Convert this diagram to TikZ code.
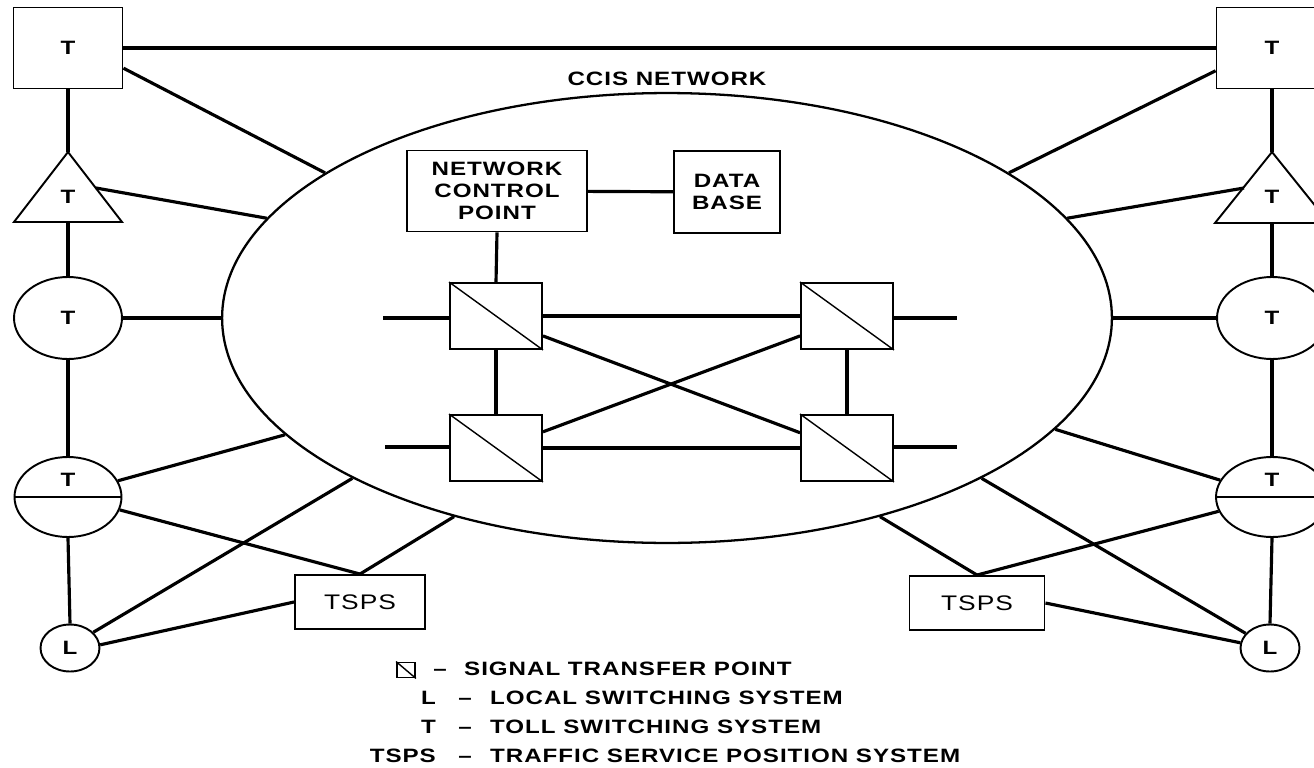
\documentclass[tikz,border=0pt]{standalone}
\usepackage{fontspec}
\setmainfont{Liberation Sans}[FakeStretch=1.25,LetterSpace=5]
\usetikzlibrary{shapes.geometric}

\begin{document}
\begin{tikzpicture}[x=0.02cm, y=-0.02cm,
    conn/.style={line width=1.8pt},
    box/.style={draw, line width=1.1pt, rectangle, inner sep=0pt},
    oval/.style={draw, line width=1.1pt, ellipse, inner sep=0pt},
    tsq/.style={box, minimum width=2.18cm, minimum height=1.62cm, font=\tfont},
    tov/.style={oval, minimum width=2.16cm, minimum height=1.64cm, font=\tfont},
    lov/.style={oval, minimum width=1.18cm, minimum height=0.94cm, font=\tfont},
    tsps/.style={box, minimum width=2.6cm, minimum height=1.08cm, font=\fontsize{12}{14}\selectfont},
    stp/.style={box, minimum width=1.84cm, minimum height=1.32cm},
    txt/.style={font=\fontsize{11}{12.6}\selectfont\bfseries, align=center},
    key/.style={txt, text height=1.2ex, text depth=0pt},
  ]
    \providecommand\tfont{\fontsize{11}{13}\selectfont\bfseries}
    \useasboundingbox (0,0) rectangle (1314,767);

    % CCIS network
    \node[oval, line width=1.3pt, minimum width=17.8cm, minimum height=9cm] (ccis) at (667,318) {};
    \node[txt] (ccisLbl) at (667,79) {CCIS NETWORK};
    \node[box, txt, minimum width=3.6cm, minimum height=1.62cm] (ncp) at (497,191) {NETWORK\\CONTROL\\POINT};
    \node[box, txt, minimum width=2.12cm, minimum height=1.64cm] (dbase) at (727,192) {DATA\\BASE};
    \node[stp] (stpTL) at (496,316) {};
    \node[stp] (stpTR) at (847,316) {};
    \node[stp] (stpBL) at (496,448) {};
    \node[stp] (stpBR) at (847,448) {};
    \foreach \s in {stpTL,stpTR,stpBL,stpBR}
        \draw[line width=0.8pt] (\s.north west) -- (\s.south east);
    \coordinate (stubTL) at (383,318);
    \coordinate (stubBL) at (385,447);
    \coordinate (stubTR) at (957,318);
    \coordinate (stubBR) at (957,447);
    \draw[conn] (ncp) -- (dbase);
    \draw[conn] (ncp.south) -- (stpTL.north);
    \draw[conn] (stubTL) -- (stpTL.west |- stubTL);
    \draw[conn] (stubBL) -- (stpBL.west |- stubBL);
    \draw[conn] (stpTR.east |- stubTR) -- (stubTR);
    \draw[conn] (stpBR.east |- stubBR) -- (stubBR);
    \draw[conn] (stpTL) -- (stpTR);
    \draw[conn] (stpBL) -- (stpBR);
    \draw[conn] (stpTL) -- (stpBL);
    \draw[conn] (stpTR) -- (stpBR);
    \draw[conn] (stpTL.-23) -- (stpBR.162);
    \draw[conn] (stpBL.19) -- (stpTR.203);

    % left side
    \node[tsq] (sqL) at (68,48) {T};
    \coordinate (triLtop) at (68,152);
    \coordinate (triLbot) at (68,222);
    \coordinate (triLside) at (96,188);
    \draw[line width=1.1pt] (triLtop) -- (122,222) -- (14,222) -- cycle;
    \node[font=\tfont] (triL) at (68,197) {T};
    \node[tov] (ovL) at (68,318) {T};
    \node[oval, minimum width=2.14cm, minimum height=1.6cm] (spL) at (68,497) {};
    \draw[line width=1.1pt] (spL.west) -- (spL.east);
    \node[font=\tfont] (spLlbl) at (68,480) {T};
    \node[lov] (locL) at (70,648) {L};
    \node[tsps] (tspsL) at (360,602) {TSPS};

    \draw[conn] (sqL.south) -- (triLtop);
    \draw[conn] (triLbot) -- (ovL.north);
    \draw[conn] (ovL.south) -- (spL.north);
    \draw[conn] (spL.south) -- (locL.north);
    \draw[conn] (sqL.-20) -- (ccis.157);
    \draw[conn] (triLside) -- (ccis.166);
    \draw[conn] (ovL.east) -- (ccis.west);
    \draw[conn] (spL.18) -- (ccis.197);
    \draw[conn] (spL.-14) -- (tspsL.north);
    \draw[conn] (locL.34) -- (ccis.207);
    \draw[conn] (locL.6) -- (tspsL.west);
    \draw[conn] (tspsL.north) -- (ccis.223);

    % right side
    \node[tsq, minimum width=2.22cm] (sqR) at (1272,48) {T};
    \coordinate (triRtop) at (1272,152);
    \coordinate (triRbot) at (1272,223);
    \coordinate (triRside) at (1244,188);
    \draw[line width=1.1pt] (triRtop) -- (1329,223) -- (1215,223) -- cycle;
    \node[font=\tfont] (triR) at (1272,197) {T};
    \node[tov, minimum width=2.2cm] (ovR) at (1272,318) {T};
    \node[oval, minimum width=2.24cm, minimum height=1.6cm] (spR) at (1272,497) {};
    \draw[line width=1.1pt] (spR.west) -- (spR.east);
    \node[font=\tfont] (spRlbl) at (1272,480) {T};
    \node[lov] (locR) at (1270,648) {L};
    \node[tsps, minimum width=2.7cm] (tspsR) at (977,603) {TSPS};

    \draw[conn] (sqL.east) -- (sqR.west |- sqL.east);
    \draw[conn] (sqR.south) -- (triRtop);
    \draw[conn] (triRbot) -- (ovR.north);
    \draw[conn] (ovR.south) -- (spR.north);
    \draw[conn] (spR.south) -- (locR.north);
    \draw[conn] (sqR.202) -- (ccis.23);
    \draw[conn] (triRside) -- (ccis.14);
    \draw[conn] (ovR.west) -- (ccis.east);
    \draw[conn] (spR.162) -- (ccis.344);
    \draw[conn] (spR.195) -- (tspsR.north);
    \draw[conn] (locR.149) -- (ccis.333);
    \draw[conn] (locR.170) -- (tspsR.east);
    \draw[conn] (tspsR.north) -- (ccis.317);

    % legend
    \node[box, minimum width=0.36cm, minimum height=0.3cm] (keyStp) at (406,670) {};
    \draw[line width=0.8pt] (keyStp.north west) -- (keyStp.south east);
    \node[key] (dash1) at (440,670) {\textendash};
    \node[key, anchor=west] (key1) at (458,670) {SIGNAL TRANSFER POINT};
    \node[key, anchor=east] (keyL) at (442,699) {L};
    \node[key] (dash2) at (465,699) {\textendash};
    \node[key, anchor=west] (key2) at (484,699) {LOCAL SWITCHING SYSTEM};
    \node[key, anchor=east] (keyT) at (442,728) {T};
    \node[key] (dash3) at (465,728) {\textendash};
    \node[key, anchor=west] (key3) at (484,728) {TOLL SWITCHING SYSTEM};
    \node[key, anchor=east] (keyTsps) at (442,757) {TSPS};
    \node[key] (dash4) at (465,757) {\textendash};
    \node[key, anchor=west] (key4) at (484,757) {TRAFFIC SERVICE POSITION SYSTEM};
\end{tikzpicture}
\end{document}
